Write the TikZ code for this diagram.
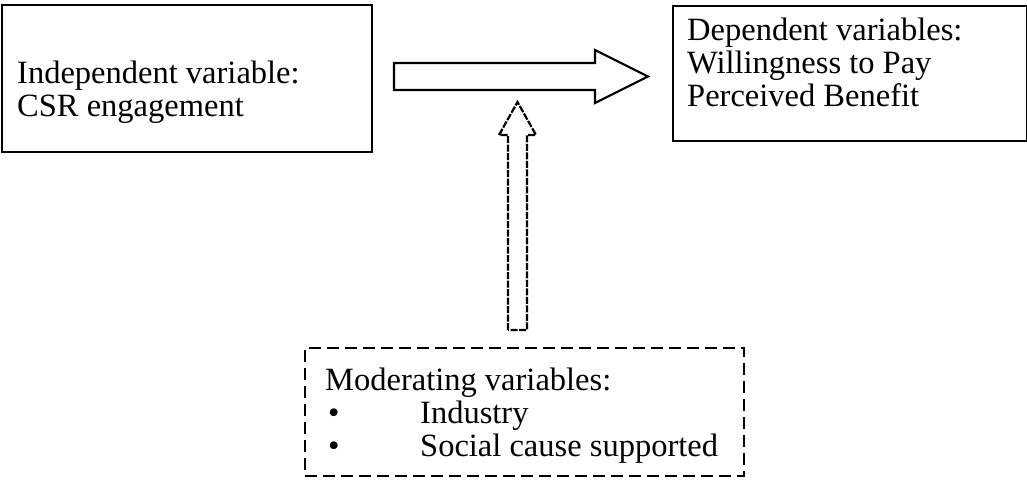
\documentclass[tikz,border=0pt]{standalone}
\usepackage{fontspec}
\setmainfont{Liberation Serif}
\begin{document}
\begin{tikzpicture}[x=1pt,y=-1pt,
  box/.style={draw=black,line width=1.8pt,rectangle,inner sep=0pt,anchor=north west},
  dbox/.style={box,dash pattern=on 12pt off 6pt},
  txt/.style={inner sep=0pt,anchor=base west,align=left,font=\fontsize{32.5}{33}\selectfont},
  blockarrow/.style={draw=black,line width=2.2pt,fill=white,line join=miter},
  dasharrow/.style={blockarrow,dash pattern=on 7pt off 1.5pt}]
\useasboundingbox (0,0) rectangle (1027,480);
% boxes
\node[box,minimum width=370pt,minimum height=147pt] (indep) at (1,4) {};
\node[box,minimum width=354pt,minimum height=135pt] (dep) at (672,5) {};
\node[dbox,minimum width=439pt,minimum height=128pt] (mod) at (304,347) {};
% texts (anchor = baseline of the last line)
\node[txt] (indeptext) at (17,116) {Independent variable:\\CSR engagement};
\node[txt] (deptext) at (687,106) {Dependent variables:\\Willingness to Pay\\Perceived Benefit};
\node[txt] (modtext) at (325,456) {Moderating variables:\\\makebox[95pt][l]{\hspace{3pt}\textbullet}Industry\\\makebox[95pt][l]{\hspace{3pt}\textbullet}Social cause supported};
% block arrows
\draw[blockarrow] (394,63) -- (595,63) -- (595,50) -- (648,76.5) -- (595,103) -- (595,90) -- (394,90) -- cycle;
\draw[dasharrow] (508,330) -- (508,135) -- (499,135) -- (517.5,102) -- (536,135) -- (527,135) -- (527,330) -- cycle;
\end{tikzpicture}
\end{document}
